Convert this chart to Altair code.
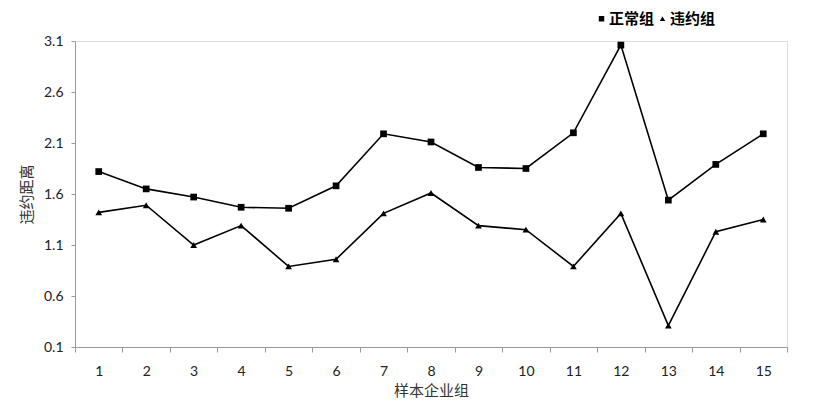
import altair as alt
import pandas as pd

groups = [str(i) for i in range(1, 16)]
normal = [1.82, 1.65, 1.57, 1.47, 1.46, 1.68, 2.19, 2.11, 1.86, 1.85, 2.20, 3.06, 1.54, 1.89, 2.19]
default = [1.42, 1.49, 1.10, 1.29, 0.89, 0.96, 1.41, 1.61, 1.29, 1.25, 0.89, 1.41, 0.31, 1.23, 1.35]
series = ["正常组", "违约组"]
y_ticks = [0.1, 0.6, 1.1, 1.6, 2.1, 2.6, 3.1]

rows = []
for g, a, b in zip(groups, normal, default):
    rows.append({"组": g, "系列": series[0], "值": a})
    rows.append({"组": g, "系列": series[1], "值": b})
df = pd.DataFrame(rows)

NUM_FONT = "Lato"
CJK_FONT = "Noto Sans CJK SC"

x = alt.X("组:O", sort=groups,
          scale=alt.Scale(type="band", paddingInner=0, paddingOuter=0),
          axis=alt.Axis(title="样本企业组", labelAngle=0, tickBand="extent",
                        labelFont=NUM_FONT, labelFontSize=14, labelColor="#222",
                        labelPadding=12, tickSize=5, titleFont=CJK_FONT,
                        titleFontSize=15, titleFontWeight="normal", titleColor="#333",
                        titlePadding=5, domainColor="#9a9a9a", tickColor="#9a9a9a"))
y = alt.Y("值:Q", scale=alt.Scale(domain=[0.1, 3.1], nice=False, zero=False),
          axis=alt.Axis(title="违约距离", values=y_ticks, format=".1f", grid=False,
                        labelFont=NUM_FONT, labelFontSize=14, labelColor="#222",
                        labelPadding=8, tickSize=4, titleFont=CJK_FONT,
                        titleFontSize=15, titleFontWeight="normal", titleColor="#333",
                        titlePadding=9, domainColor="#9a9a9a", tickColor="#9a9a9a"))

shape = alt.Shape("系列:N", scale=alt.Scale(domain=series, range=["square", "triangle-up"]),
                  legend=alt.Legend(title=None, orient="none", direction="horizontal",
                                    legendX=519, legendY=-30, labelFont=CJK_FONT,
                                    labelFontSize=15, labelFontWeight="bold",
                                    labelColor="#000", symbolSize=30,
                                    symbolFillColor="#000", symbolStrokeColor="#000",
                                    columnPadding=-3, labelOffset=0))

base = alt.Chart(df)
lines = base.mark_line(color="#000", strokeWidth=1.6).encode(x=x, y=y, detail="系列:N")
points = base.mark_point(filled=True, size=45, opacity=1, color="#000").encode(
    x=x, y=y, shape=shape)

chart = (lines + points).properties(
    width=712, height=306,
    padding={"left": 11, "top": 3, "right": 5, "bottom": 5},
).configure_view(stroke=None).configure(background="white")

chart.save("out.html", embed_options={"renderer": "svg", "actions": False})
